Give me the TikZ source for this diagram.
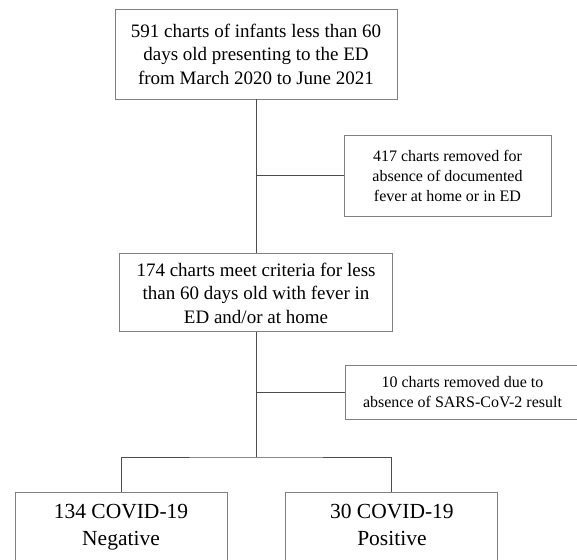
\documentclass[tikz,border=0pt]{standalone}
\usepackage{fontspec}
\setmainfont{Liberation Serif}
\usetikzlibrary{positioning}

\begin{document}
\begin{tikzpicture}[
    x=1pt, y=-1pt,
    box/.style={rectangle, draw=black!50, line width=0.9pt, align=center, inner sep=0pt},
    mainbox/.style={box, font=\fontsize{19}{23.5}\selectfont},
    sidebox/.style={box, font=\fontsize{16}{20}\selectfont},
    endbox/.style={box, font=\fontsize{21.5}{27}\selectfont, minimum width=212pt, minimum height=70pt},
    link/.style={draw=black!70, line width=0.9pt}
  ]
  \useasboundingbox (0,0) rectangle (577,559);
  \clip (0,0) rectangle (577,559);
  % main column
  \node[mainbox, minimum width=282pt, minimum height=90pt] (charts) at (256,54) {591 charts of infants less than 60\\ days old presenting to the ED\\ from March 2020 to June 2021};
  \node[mainbox, minimum width=273pt, minimum height=78pt, below=154pt of charts] (fever) {174 charts meet criteria for less\\ than 60 days old with fever in\\ ED and/or at home};
  % exclusions
  \node[sidebox, minimum width=207pt, minimum height=81pt] (nofever) at (447.5,175.5) {417 charts removed for\\ absence of documented\\ fever at home or in ED};
  \node[sidebox, minimum width=235pt, minimum height=54pt] (noresult) at (462.5,392) {10 charts removed due to\\ absence of SARS-CoV-2 result};
  % outcome
  \node[endbox] (neg) at (121,527) {\strut134 COVID-19\\ Negative\strut};
  \node[endbox, right=58pt of neg] (pos) {\strut30 COVID-19\\ Positive\strut};
  \coordinate (split) at (256,457);
  % connectors
  \draw[link] (charts) -- (fever);
  \draw[link] (charts.south |- nofever) -- (nofever.west);
  \draw[link] (fever) -- (split);
  \draw[link] (fever.south |- noresult) -- (noresult.west);
  \draw[link] (neg) |- (split) -| (pos);
\end{tikzpicture}
\end{document}
